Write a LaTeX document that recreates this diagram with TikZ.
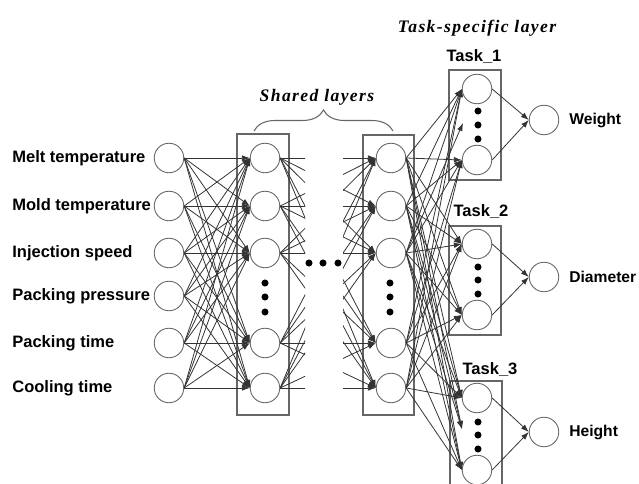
\documentclass[tikz,border=0pt]{standalone}
\usepackage{fontspec}
\setmainfont{Liberation Sans}
\newfontfamily\titlefont[LetterSpace=8]{Liberation Serif}
\usetikzlibrary{arrows.meta,decorations.pathreplacing}

\tikzset{
  neuron/.style={circle,draw=black!60,line width=0.5pt,minimum size=0.59cm,inner sep=0pt},
  layerbox/.style={draw=black!60,line width=0.6pt},
  link/.style={draw=black!80,line width=0.45pt},
  arrowlink/.style={link,-{Latex[length=4.5pt,width=3.2pt]}},
  lbl/.style={font=\fontsize{9.4}{11}\selectfont\bfseries,inner sep=0pt},
  outlbl/.style={lbl,font=\fontsize{8.9}{11}\selectfont\bfseries},
  title/.style={font=\titlefont\fontsize{10}{12}\selectfont\bfseries\itshape,inner sep=0pt},
  bigdot/.style={circle,fill=black,inner sep=0pt,minimum size=4pt}
}

\begin{document}
\begin{tikzpicture}[y=-1cm]
    \useasboundingbox (0,0) rectangle (12.78,9.68);
    % layer boxes
    \draw[layerbox] (4.74,2.68) rectangle (5.78,8.30);
    \draw[layerbox] (7.26,2.70) rectangle (8.28,8.30);
    \draw[layerbox] (8.98,1.40) rectangle (10.02,3.60);
    \draw[layerbox] (8.98,4.52) rectangle (10.02,6.70);
    \draw[layerbox] (9.00,9.70) -- (9.00,7.62) -- (10.04,7.62) -- (10.04,9.70);

    % inputs
    \foreach \n/\y/\txt in {1/3.16/Melt temperature,2/4.12/Mold temperature,
        3/5.06/Injection speed,4/5.92/Packing pressure,5/6.86/Packing time,6/7.76/Cooling time}{
        \node[neuron] (in\n) at (3.38,\y) {};
        \node[lbl,anchor=west] (lb\n) at (0.24,\y) {\txt};
    }

    % shared layers
    \foreach \n/\y in {1/3.16,2/4.12,3/5.06,5/6.86,6/7.76}{
        \node[neuron] (sa\n) at (5.30,\y) {};
        \node[neuron] (sb\n) at (7.82,\y) {};
    }
    \foreach \y in {5.66,5.94,6.24}{
        \node[bigdot] at (5.30,\y) {};
        \node[bigdot] at (7.80,\y) {};
    }
    \foreach \x in {6.18,6.46,6.76}
        \node[bigdot] at (\x,5.26) {};

    \foreach \i in {1,...,6}
        \foreach \j in {1,2,3,5,6}
            \draw[arrowlink] (in\i.east) -- (sa\j.west);

    \begin{scope}
        \clip (5.3,2) rectangle (6.10,9);
        \foreach \i in {1,2,3,5,6}
            \foreach \j in {1,2,3,5,6}
                \draw[link] (sa\i.east) -- (sb\j.west);
    \end{scope}
    \begin{scope}
        \clip (6.86,2) rectangle (7.6,9);
        \foreach \i in {1,2,3,5,6}
            \foreach \j in {1,2,3,5,6}
                \draw[arrowlink] (sa\i.east) -- (sb\j.west);
    \end{scope}

    % task-specific layers
    \node[neuron] (t1a) at (9.54,1.78) {};
    \node[neuron] (t1b) at (9.54,3.20) {};
    \node[neuron] (t2a) at (9.54,4.88) {};
    \node[neuron] (t2b) at (9.54,6.30) {};
    \node[neuron] (t3a) at (9.54,7.96) {};
    \node[neuron] (t3b) at (9.54,9.40) {};
    \coordinate (t1m) at (9.26,2.46);
    \coordinate (t3m) at (9.24,8.58);
    \foreach \y in {2.22,2.50,2.78,5.34,5.60,5.88,8.44,8.70,8.98}
        \node[bigdot] at (9.56,\y) {};

    \node[lbl] (task1) at (9.48,1.14) {Task\_1};
    \node[lbl] (task2) at (9.62,4.24) {Task\_2};
    \node[lbl] (task3) at (9.80,7.40) {Task\_3};

    \foreach \i in {1,2,3,5,6}
        \foreach \t in {t1a,t1b,t2a,t2b,t3a,t3b}
            \draw[arrowlink] (sb\i.east) -- (\t.west);
    \draw[arrowlink] (sb3.east) -- (t1m);
    \foreach \i in {1,2,3}
        \draw[arrowlink] (sb\i.east) -- (t3m);

    % outputs
    \foreach \n/\y/\txt in {1/2.40/Weight,2/5.54/Diameter,3/8.64/Height}{
        \node[neuron] (out\n) at (10.88,\y) {};
        \node[outlbl,anchor=west] (ol\n) at (11.38,\y) {\txt};
        \draw[arrowlink] (t\n a.east) -- (out\n.west);
        \draw[arrowlink] (t\n b.east) -- (out\n.west);
    }

    % titles
    \draw[layerbox,decorate,decoration={brace,amplitude=0.42cm}] (5.08,2.62) -- (7.86,2.62);
    \node[title] (shared) at (6.34,1.94) {Shared layers};
    \node[title] (specific) at (9.54,0.56) {Task-specific layer};
\end{tikzpicture}
\end{document}
